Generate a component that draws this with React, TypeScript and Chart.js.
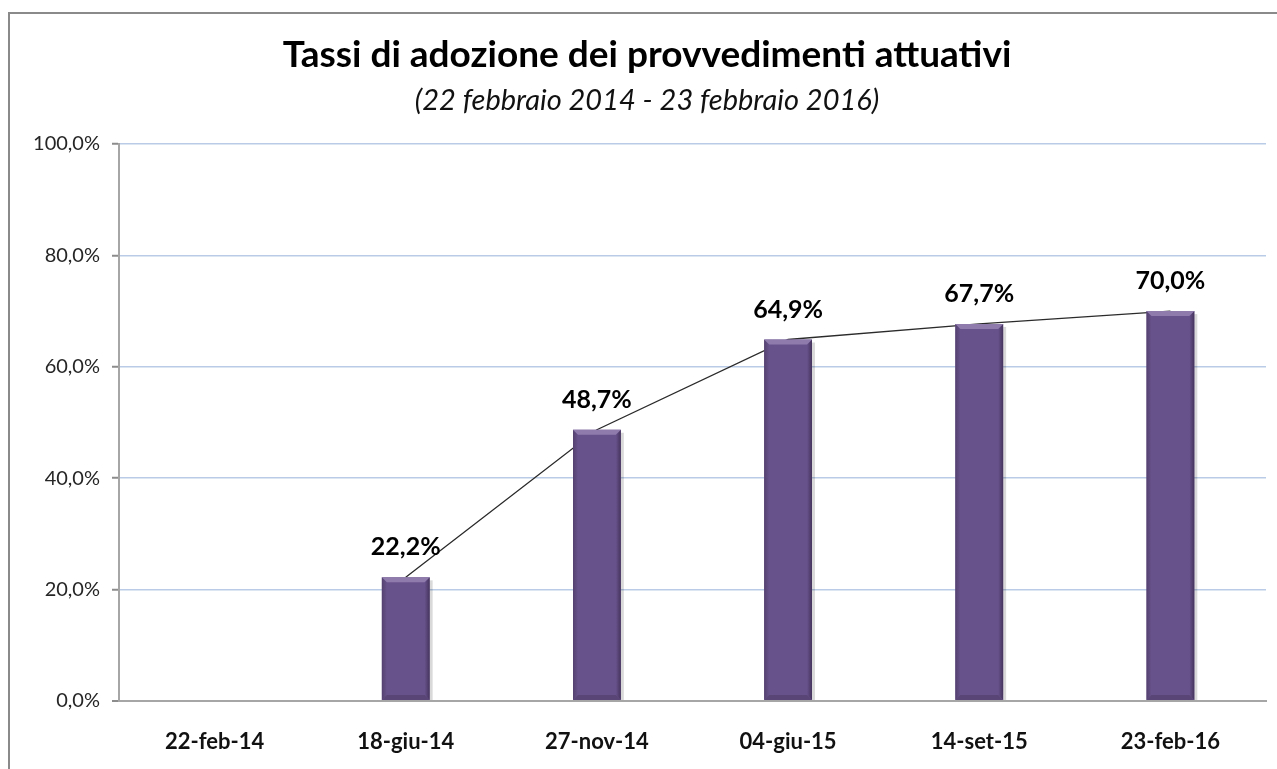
import React, { useEffect, useRef } from 'react';
import { Chart, registerables } from 'chart.js';

Chart.register(...registerables);

const categories: string[] = ['22-feb-14', '18-giu-14', '27-nov-14', '04-giu-15', '14-set-15', '23-feb-16'];
const adoptionRates: (number | null)[] = [null, 22.2, 48.7, 64.9, 67.7, 70.0];
const titleText = 'Tassi di adozione dei provvedimenti attuativi';
const subtitleText = '(22 febbraio 2014 - 23 febbraio 2016)';

const FONT = 'Lato, "Open Sans", "DejaVu Sans", sans-serif';
const fmt = (v: number) => v.toFixed(1).replace('.', ',') + '%';

const framePlugin = {
  id: 'frame',
  beforeDraw(chart: any) {
    const ctx = chart.ctx;
    ctx.save();
    ctx.fillStyle = '#ffffff';
    ctx.fillRect(0, 0, chart.width, chart.height);
    ctx.strokeStyle = '#8a8a8a';
    ctx.lineWidth = 2;
    ctx.strokeRect(9, 13, chart.width + 50, chart.height + 50);
    ctx.restore();
  },
  afterDraw(chart: any) {
    const ctx = chart.ctx;
    ctx.save();
    ctx.textAlign = 'center';
    ctx.textBaseline = 'alphabetic';
    ctx.fillStyle = '#000000';
    ctx.font = `bold 37px ${FONT}`;
    ctx.fillText(titleText, 647, 67);
    ctx.font = `italic 29px ${FONT}`;
    ctx.fillStyle = '#111111';
    ctx.fillText(subtitleText, 647, 110);
    ctx.restore();
  },
};

const barStylePlugin = {
  id: 'barStyle',
  afterDatasetDraw(chart: any, args: any) {
    if (args.index !== 0) return;
    const ctx = chart.ctx;
    const meta = args.meta;
    ctx.save();
    meta.data.forEach((el: any, i: number) => {
      const v = adoptionRates[i];
      if (v == null) return;
      const { x, y, base, width } = el.getProps(['x', 'y', 'base', 'width'], true);
      const l = x - width / 2;
      const r = x + width / 2;
      const h = base - y;
      const b = 5;
      // shadow right
      ctx.fillStyle = 'rgba(0,0,0,0.15)';
      ctx.fillRect(r, y + 3, 3, h - 3);
      // left bevel
      let g = ctx.createLinearGradient(l, 0, l + b, 0);
      g.addColorStop(0, '#54416f');
      g.addColorStop(1, '#68528b');
      ctx.fillStyle = g;
      ctx.beginPath();
      ctx.moveTo(l, y);
      ctx.lineTo(l + b, y + b);
      ctx.lineTo(l + b, base - b);
      ctx.lineTo(l, base);
      ctx.closePath();
      ctx.fill();
      // right bevel
      g = ctx.createLinearGradient(r - b, 0, r, 0);
      g.addColorStop(0, '#68528b');
      g.addColorStop(1, '#45345d');
      ctx.fillStyle = g;
      ctx.beginPath();
      ctx.moveTo(r, y);
      ctx.lineTo(r - b, y + b);
      ctx.lineTo(r - b, base - b);
      ctx.lineTo(r, base);
      ctx.closePath();
      ctx.fill();
      // top bevel
      ctx.fillStyle = '#8f7cad';
      ctx.beginPath();
      ctx.moveTo(l, y);
      ctx.lineTo(r, y);
      ctx.lineTo(r - b, y + b);
      ctx.lineTo(l + b, y + b);
      ctx.closePath();
      ctx.fill();
      // bottom bevel
      ctx.fillStyle = '#5a4676';
      ctx.beginPath();
      ctx.moveTo(l, base);
      ctx.lineTo(r, base);
      ctx.lineTo(r - b, base - b);
      ctx.lineTo(l + b, base - b);
      ctx.closePath();
      ctx.fill();
      // label
      ctx.fillStyle = '#000000';
      ctx.font = `bold 25px ${FONT}`;
      ctx.textAlign = 'center';
      ctx.textBaseline = 'alphabetic';
      ctx.fillText(fmt(v), x, y - 22);
    });
    ctx.restore();
  },
};

export default function App() {
  const canvasRef = useRef<HTMLCanvasElement | null>(null);

  useEffect(() => {
    const canvas = canvasRef.current;
    if (!canvas) return;
    const chart = new Chart(canvas, {
      type: 'bar',
      data: {
        labels: categories,
        datasets: [
          {
            type: 'bar',
            data: adoptionRates,
            backgroundColor: '#68528b',
            borderWidth: 0,
            barPercentage: 0.25,
            categoryPercentage: 1,
            order: 0,
          },
          {
            type: 'line',
            data: adoptionRates,
            borderColor: '#2b2b2b',
            borderWidth: 1.3,
            pointRadius: 0,
            tension: 0,
            fill: false,
            order: 1,
          } as any,
        ],
      },
      options: {
        animation: false,
        responsive: false,
        layout: { padding: { top: 144, right: 11, bottom: 0, left: 0 } },
        plugins: {
          legend: { display: false },
          tooltip: { enabled: false },
          title: { display: false },
        },
        scales: {
          x: {
            offset: true,
            grid: { display: false, drawTicks: false },
            border: { display: true, color: '#a6a6a6', width: 2 },
            ticks: {
              color: '#111111',
              font: { family: FONT, size: 22, weight: 'bold' },
              padding: 28,
            },
            afterFit: (scale: any) => {
              scale.height = 68;
            },
          },
          y: {
            min: 0,
            max: 100,
            ticks: {
              stepSize: 20,
              color: '#262626',
              font: { family: FONT, size: 20 },
              padding: 12,
              callback: (v: any) => fmt(Number(v)),
            },
            grid: {
              color: (c: any) => (c.tick && c.tick.value === 0 ? '#a6a6a6' : '#b9cbe6'),
              lineWidth: (c: any) => (c.tick && c.tick.value === 0 ? 2 : 1.5),
              tickColor: '#8c8c8c',
              tickLength: 7,
              tickWidth: 2,
            },
            border: { display: true, color: '#a6a6a6', width: 2 },
            afterFit: (scale: any) => {
              scale.width = 119;
            },
          },
        },
      },
      plugins: [framePlugin, barStylePlugin],
    });
    return () => chart.destroy();
  }, []);

  return (
    <div style={{ position: 'fixed', left: 0, top: 0, width: 1277, height: 769, background: '#fff' }}>
      <canvas ref={canvasRef} width={1277} height={769} style={{ width: 1277, height: 769, display: 'block' }} />
    </div>
  );
}
